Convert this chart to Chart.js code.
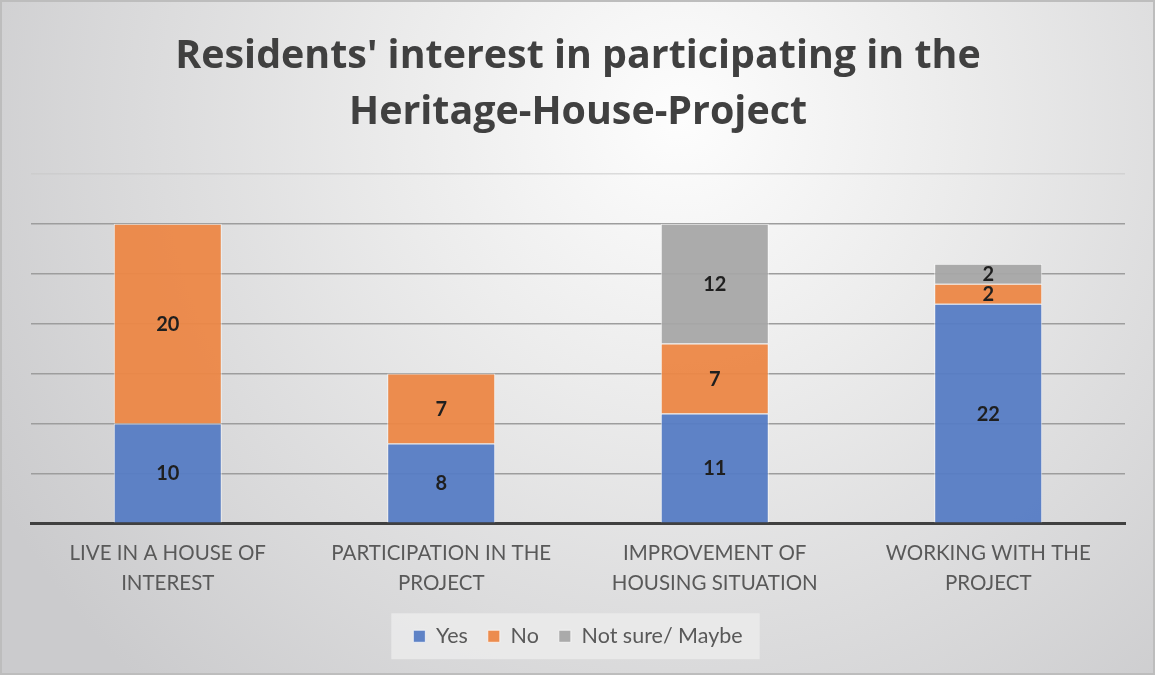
<!DOCTYPE html>
<html>
<head>
<meta charset="utf-8">
<script src="https://cdn.jsdelivr.net/npm/chart.js@4/dist/chart.umd.min.js"></script>
<style>
html,body{margin:0;padding:0;background:#fff;}
#wrap{width:1155px;height:675px;position:relative;}
</style>
</head>
<body>
<div id="wrap"><canvas id="c" width="1155" height="675"></canvas></div>
<script>
const categories = [
  ["LIVE IN A HOUSE OF", "INTEREST"],
  ["PARTICIPATION IN THE", "PROJECT"],
  ["IMPROVEMENT OF", "HOUSING SITUATION"],
  ["WORKING WITH THE", "PROJECT"]
];
const seriesNames = ["Yes", "No", "Not sure/ Maybe"];
const yesValues = [10, 8, 11, 22];
const noValues = [20, 7, 7, 2];
const notSureValues = [null, null, 12, 2];
const titleLines = ["Residents' interest in participating in the", "Heritage-House-Project"];

const FONT = "Lato, 'Open Sans', sans-serif";
const TITLE_FONT = "'Open Sans', Lato, sans-serif";

const bgPlugin = {
  id: 'bg',
  beforeDraw(chart) {
    const ctx = chart.ctx;
    const w = chart.width, h = chart.height;
    ctx.save();
    const g = ctx.createRadialGradient(680, 120, 0, 680, 120, 780);
    g.addColorStop(0, '#fdfdfd');
    g.addColorStop(0.35, '#ececec');
    g.addColorStop(1, '#cbcbcd');
    ctx.fillStyle = g;
    ctx.fillRect(0, 0, w, h);
    ctx.strokeStyle = '#bdbdbd';
    ctx.lineWidth = 2;
    ctx.strokeRect(1, 1, w - 2, h - 2);
    const lg = chart.legend;
    if (lg && lg.legendHitBoxes && lg.legendHitBoxes.length) {
      const hb = lg.legendHitBoxes;
      const x0 = Math.min(...hb.map(b => b.left)) - 22;
      const x1 = Math.max(...hb.map(b => b.left + b.width)) + 17;
      const cy = hb[0].top + hb[0].height / 2;
      ctx.fillStyle = 'rgba(235,235,235,0.85)';
      ctx.fillRect(x0, cy - 23, x1 - x0, 46);
    }
    ctx.restore();
  }
};

const labelPlugin = {
  id: 'vlabels',
  afterDatasetsDraw(chart) {
    const ctx = chart.ctx;
    ctx.save();
    ctx.font = "bold 20px " + FONT;
    ctx.fillStyle = '#1f1f1f';
    ctx.textAlign = 'center';
    ctx.textBaseline = 'middle';
    chart.data.datasets.forEach((ds, i) => {
      const meta = chart.getDatasetMeta(i);
      meta.data.forEach((bar, j) => {
        const v = ds.data[j];
        if (v === null || v === undefined) return;
        const p = bar.getProps(['x', 'y', 'base'], true);
        ctx.fillText(String(v), p.x, (p.y + p.base) / 2 + 1);
      });
    });
    ctx.restore();
  }
};

new Chart(document.getElementById('c'), {
  type: 'bar',
  data: {
    labels: categories,
    datasets: [
      { label: seriesNames[0], data: yesValues, backgroundColor: 'rgba(86,124,196,0.95)', borderColor: 'rgba(255,255,255,0.7)', borderWidth: 1 },
      { label: seriesNames[1], data: noValues, backgroundColor: 'rgba(236,135,70,0.95)', borderColor: 'rgba(255,255,255,0.7)', borderWidth: 1 },
      { label: seriesNames[2], data: notSureValues, backgroundColor: 'rgba(167,167,167,0.95)', borderColor: 'rgba(255,255,255,0.7)', borderWidth: 1 }
    ]
  },
  options: {
    responsive: false,
    animation: false,
    devicePixelRatio: 1,
    layout: { padding: { left: 31, right: 30, top: 29, bottom: 18 } },
    datasets: { bar: { barPercentage: 0.395, categoryPercentage: 1 } },
    scales: {
      x: {
        stacked: true,
        grid: { display: false },
        border: { display: true, color: '#404040', width: 3 },
        ticks: { color: '#595959', font: { family: FONT, size: 20.5, lineHeight: 1.42 }, padding: 8, maxRotation: 0, autoSkip: false }
      },
      y: {
        stacked: true,
        min: 0, max: 35,
        ticks: { display: false, stepSize: 5 },
        border: { display: false },
        grid: {
          color: (c) => c.tick && c.tick.value === 35 ? 'rgba(200,200,200,0.6)' : '#9d9d9d',
          lineWidth: 1.5,
          drawTicks: false
        }
      }
    },
    plugins: {
      title: {
        display: true,
        text: titleLines,
        color: '#404040',
        font: { family: TITLE_FONT, size: 39.4, weight: 'bold', lineHeight: 1.42 },
        padding: { top: 0, bottom: 33 }
      },
      legend: {
        position: 'bottom',
        labels: {
          color: '#595959',
          font: { family: FONT, size: 21.5 },
          boxWidth: 12, boxHeight: 12,
          padding: 20
        }
      },
      tooltip: { enabled: false }
    }
  },
  plugins: [bgPlugin, labelPlugin]
});
</script>
</body>
</html>
